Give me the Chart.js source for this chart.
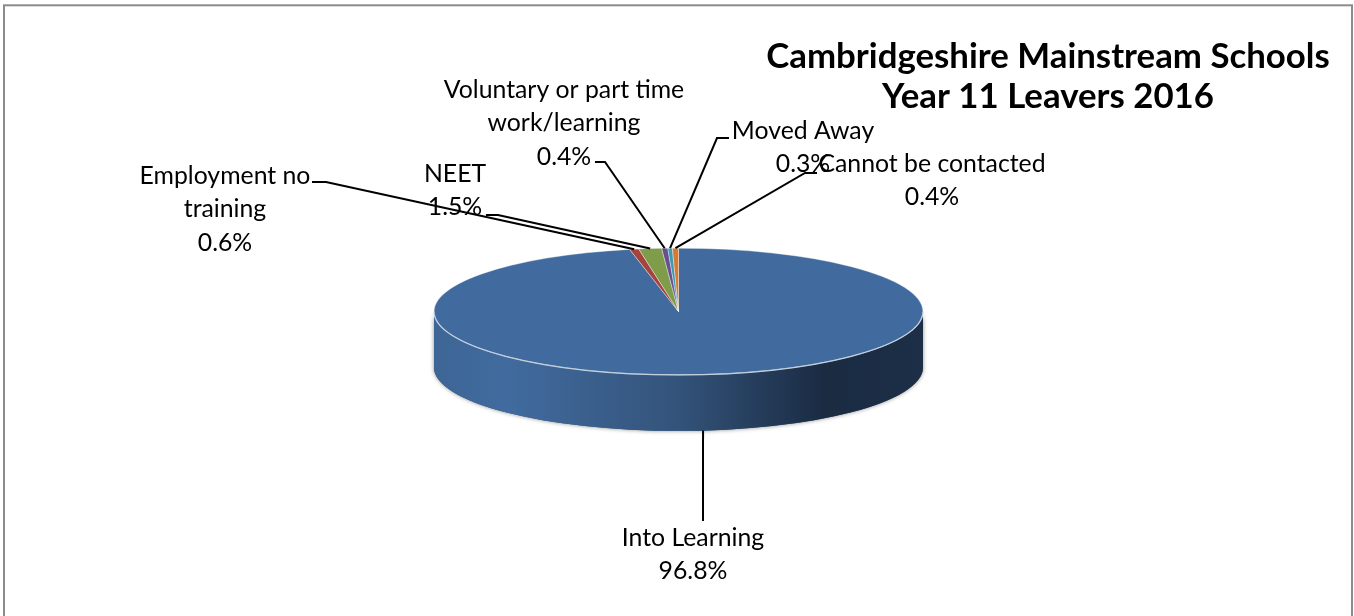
<!DOCTYPE html>
<html>
<head>
<meta charset="utf-8">
<script src="https://cdn.jsdelivr.net/npm/chart.js@4"></script>
<style>html,body{margin:0;padding:0;background:#fff}canvas{display:block}</style>
</head>
<body>
<canvas id="c" width="1354" height="616"></canvas>
<script>
const categories = ["Into Learning","Employment no training","NEET","Voluntary or part time work/learning","Moved Away","Cannot be contacted"];
const values = [96.8,0.6,1.5,0.4,0.3,0.4];
const sliceColors = ["#416b9e","#a5433f","#7f9c4a","#6a4f8f","#3c9ab3","#d9792f"];
const titleLines = ["Cambridgeshire Mainstream Schools","Year 11 Leavers 2016"];
const labelLines = [["Into Learning","96.8%"],["Employment no","training","0.6%"],["NEET","1.5%"],["Voluntary or part time","work/learning","0.4%"],["Moved Away","0.3%"],["Cannot be contacted","0.4%"]];

const FONT = 'Lato, "Open Sans", sans-serif';
const SQUASH = 63.5/245, DEPTH = 56;
// text centre x, first line centre y, leader path (elbow points from the label to the slice)
const layout = [
  {x:693,y:538,path:[[703,521]]},
  {x:225,y:176,path:[[312,182],[326,182]]},
  {x:455,y:174,path:[[486,215],[498,215]]},
  {x:564,y:90,path:[[595,162],[605,162]]},
  {x:803,y:131,path:[[729,138],[717,138]]},
  {x:932,y:164,path:[[817,173],[805,173]]}
];

const pie3d = {
  id:'pie3d',
  beforeDraw(chart){
    const ctx = chart.ctx;
    ctx.save();
    ctx.strokeStyle = '#8c8c8c'; ctx.lineWidth = 2;
    ctx.strokeRect(4,5.3,1348,640);
    ctx.restore();
  },
  beforeDatasetsDraw(chart){
    const ctx = chart.ctx, arc = chart.getDatasetMeta(0).data[0];
    const cx = arc.x, cy = arc.y, rx = arc.outerRadius, ry = rx*SQUASH;
    const wall = () => {
      ctx.beginPath();
      ctx.ellipse(cx,cy,rx,ry,0,Math.PI,0,true);
      ctx.lineTo(cx+rx,cy+DEPTH);
      ctx.ellipse(cx,cy+DEPTH,rx,ry,0,0,Math.PI,false);
      ctx.closePath();
    };
    ctx.save();
    ctx.shadowColor='rgba(0,0,0,0.45)'; ctx.shadowBlur=4; ctx.shadowOffsetY=0;
    ctx.fillStyle='#34547a'; wall(); ctx.fill();
    ctx.restore();
    const g = ctx.createLinearGradient(cx-rx,0,cx+rx,0);
    g.addColorStop(0,'#3d6696'); g.addColorStop(0.15,'#416b9e'); g.addColorStop(0.5,'#33537a');
    g.addColorStop(0.8,'#1a2b42'); g.addColorStop(1,'#1c2f47');
    ctx.save(); ctx.fillStyle=g; wall(); ctx.fill(); ctx.restore();
    ctx.save();
    ctx.translate(cx,cy); ctx.scale(1,SQUASH); ctx.translate(-cx,-cy);
  },
  afterDatasetsDraw(chart){
    const ctx = chart.ctx, arcs = chart.getDatasetMeta(0).data, a0 = arcs[0];
    ctx.restore();
    const cx=a0.x, cy=a0.y, rx=a0.outerRadius, ry=rx*SQUASH;
    ctx.save();
    ctx.strokeStyle='#c4d0de'; ctx.lineWidth=1.2;
    ctx.beginPath(); ctx.ellipse(cx,cy,rx,ry,0,Math.PI,0,true); ctx.stroke();
    ctx.restore();
    // labels
    ctx.save();
    ctx.fillStyle='#000'; ctx.textAlign='center'; ctx.textBaseline='middle';
    ctx.font='24.8px '+FONT;
    labelLines.forEach((lines,i)=>lines.forEach((t,k)=>ctx.fillText(t,layout[i].x,layout[i].y+k*33.5)));
    ctx.font='bold 34.8px '+FONT;
    titleLines.forEach((t,k)=>ctx.fillText(t,1048,57+k*40));
    ctx.restore();
    // leader lines, anchored on each slice's rim
    ctx.save();
    ctx.strokeStyle='#000'; ctx.lineWidth=2;
    arcs.forEach((arc,i)=>{
      const mid=(arc.startAngle+arc.endAngle)/2;
      const ax=cx+rx*Math.cos(mid);
      let ay=cy+ry*Math.sin(mid);
      if(Math.sin(mid)>0) ay+=DEPTH;
      ctx.beginPath();
      layout[i].path.forEach((p,k)=>k?ctx.lineTo(p[0],p[1]):ctx.moveTo(p[0],p[1]));
      ctx.lineTo(ax,ay);
      ctx.stroke();
    });
    ctx.restore();
  }
};

new Chart(document.getElementById('c'),{
  type:'pie',
  data:{labels:categories,datasets:[{data:values,backgroundColor:sliceColors,borderColor:'rgba(255,255,255,0.6)',borderWidth:1}]},
  options:{
    responsive:false,animation:false,
    layout:{padding:{left:433.5,right:430.5,top:66.5,bottom:59.5}},
    plugins:{legend:{display:false},tooltip:{enabled:false},title:{display:false}}
  },
  plugins:[pie3d]
});
</script>
</body>
</html>
